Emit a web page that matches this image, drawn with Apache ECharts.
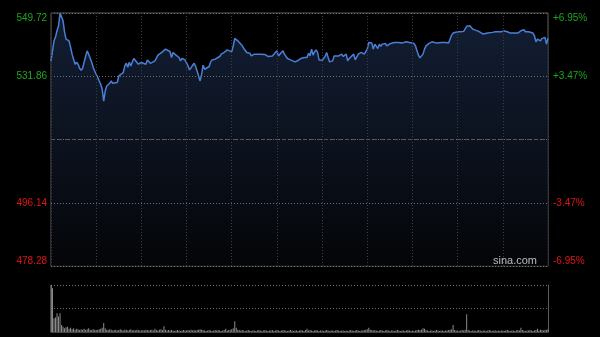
<!DOCTYPE html>
<html>
<head>
<meta charset="utf-8">
<script src="https://cdn.jsdelivr.net/npm/echarts@6/dist/echarts.min.js"></script>
<style>
html,body{margin:0;padding:0;background:#000;}
#c{width:600px;height:337px;}
</style>
</head>
<body>
<div id="c"></div>
<script>
const preClose = 514.00;
const priceTicks = [478.28, 496.14, 514.00, 531.86, 549.72];

const minutes = [0,2,3,4,5,6,8,9,10,12,13,14,15,16,17,18,19,20,21,22,23,24,25,27,28,29,30,31,32,33,34,35,36,37,38,39,40,41,42,44,45,46,48,49,50,51,52,53,54,55,56,58,60,61,63,64,66,67,69,71,72,74,76,77,79,80,81,83,85,86,87,89,90,91,92,93,95,96,97,98,99,100,101,102,103,105,106,107,109,110,112,113,115,117,118,120,121,122,124,125,127,128,130,132,133,135,139,142,144,147,148,150,151,152,154,155,157,159,160,162,164,165,166,168,170,171,172,173,174,175,176,177,178,179,180,182,183,184,185,187,188,189,191,192,193,194,196,197,198,199,201,202,203,204,205,206,207,208,210,211,212,213,214,215,216,217,218,219,220,221,222,223,225,226,228,229,231,233,234,236,238,239,241,242,243,244,245,246,247,248,249,251,253,254,256,257,259,260,262,264,265,266,267,268,270,272,274,275,276,278,279,280,281,284,285,287,288,290,293,295,297,299,301,303,305,306,308,310,312,314,315,317,318,320,321,322,323,324,325,326,327,328,329,330];

const prices = [536.20,541.87,542.92,544.70,546.12,549.72,547.54,544.33,542.35,541.87,540.08,538.10,536.68,535.26,535.83,535.26,534.13,533.56,534.13,535.83,537.50,539.03,538.10,535.83,534.41,533.36,532.43,531.58,530.53,529.59,528.17,524.86,527.69,529.11,529.31,529.87,530.53,529.87,530.07,530.07,531.94,532.14,532.91,534.78,535.54,534.41,535.83,534.78,535.91,536.88,536.88,535.26,535.74,535.26,535.26,536.48,535.50,535.91,536.20,537.81,537.61,538.75,539.51,539.03,538.86,537.16,538.58,537.81,537.16,536.20,536.88,536.48,536.20,534.78,533.65,533.65,535.54,534.61,533.36,531.94,530.53,532.43,534.98,533.84,534.33,534.61,535.91,536.48,536.68,537.16,537.44,538.10,538.58,539.32,539.51,538.75,540.45,542.55,541.87,541.41,540.45,539.71,538.58,538.38,537.61,538.10,538.10,538.01,537.44,537.61,538.10,539.03,537.61,537.81,539.03,538.10,536.88,536.48,536.20,535.91,536.31,536.03,536.88,537.16,537.16,538.38,537.61,539.51,537.81,538.75,539.32,538.58,536.48,536.48,536.40,537.44,538.58,537.16,535.91,536.20,537.61,537.81,537.61,537.33,538.10,537.44,538.10,536.20,536.88,536.48,538.10,536.48,536.88,538.10,537.61,538.58,538.38,538.10,539.51,541.41,540.93,541.22,539.51,540.93,540.45,539.71,540.93,540.28,540.93,540.65,541.13,540.45,541.02,541.22,541.41,541.13,541.41,541.22,541.41,541.58,541.41,541.13,541.13,540.45,539.03,537.81,537.05,537.16,538.10,539.51,540.45,541.13,541.58,541.70,541.22,541.13,541.41,541.22,541.41,541.22,541.41,543.48,544.05,544.25,544.42,544.42,544.53,544.99,545.95,546.12,545.67,545.18,544.70,544.53,544.05,543.77,544.05,544.05,544.25,544.42,544.42,544.42,544.62,544.42,544.05,543.77,544.05,544.05,544.70,544.99,544.42,544.42,544.42,544.05,543.28,541.58,542.35,542.83,541.87,542.55,542.35,542.83,540.93,542.60];

const volumes = [
100,93,29,31,40,33,40,15,11,8,10,11,
7,9,6,8,5,7,6,4,6,5,7,4,6,8,5,4,6,5,
4,5,6,7,9,19,8,5,4,6,5,3,4,5,3,4,6,4,3,5,5,3,4,6,3,4,3,5,4,3,
3,4,3,5,4,3,4,5,3,7,4,3,5,6,4,12,5,3,4,3,4,3,2,3,4,3,2,3,4,3,
3,4,3,5,3,4,3,4,5,6,5,4,3,2,3,4,3,2,3,4,3,4,3,2,3,4,7,3,4,5,
6,8,23,9,5,4,3,4,3,2,3,4,3,2,3,3,2,3,4,3,2,3,4,3,2,3,3,4,2,3,
4,3,2,3,4,3,3,2,3,4,3,2,3,3,2,3,4,3,2,4,7,3,4,3,2,3,4,3,2,3,
3,2,3,4,3,2,3,3,2,3,4,3,2,3,3,2,3,2,3,4,3,2,3,4,3,2,3,3,4,5,
6,9,5,4,3,4,3,2,3,4,3,2,3,4,3,2,3,3,2,3,4,3,2,3,3,2,3,4,3,2,
3,2,3,4,5,4,5,8,7,4,3,2,3,3,2,3,4,3,2,3,3,2,3,3,4,5,6,15,4,3,
3,2,3,4,3,5,38,4,3,2,3,3,2,3,4,3,2,3,3,2,3,4,3,2,3,3,2,3,2,3,
3,2,3,4,3,2,3,3,2,3,4,3,9,4,3,2,3,3,4,3,2,3,4,7,3,5,4,3,5,4,6
];

const span = priceTicks[4] - preClose;
const step = priceTicks[3] - priceTicks[2];

const chart = echarts.init(document.getElementById('c'), null, {renderer:'canvas'});
const labelColor = v => (parseFloat(v) > 0 ? '#1ea51e' : '#e01414');

chart.setOption({
  backgroundColor: '#000',
  animation: false,
  grid: [
    {left: 51, width: 497, top: 13, height: 253, show: true, borderColor: '#5c5c5c', borderWidth: 1, backgroundColor: 'transparent'},
    {left: 51, width: 497, top: 285, height: 47}
  ],
  xAxis: [
    {gridIndex: 0, type: 'value', min: 0, max: 330, interval: 30, z: 3,
     axisLine: {show: false}, axisTick: {show: false}, axisLabel: {show: false},
     splitLine: {show: true, lineStyle: {color: '#3e3e3e', type: [1, 2], width: 1}}},
    {gridIndex: 1, type: 'value', min: 0, max: 330,
     axisLine: {show: true, onZero: false, lineStyle: {color: '#444'}}, axisTick: {show: false}, axisLabel: {show: false},
     splitLine: {show: false}}
  ],
  yAxis: [
    {gridIndex: 0, type: 'value', position: 'left', min: -span, max: span, interval: step, z: 3,
     axisLine: {show: false}, axisTick: {show: false},
     axisLabel: {fontSize: 10, fontFamily: 'Arial, "Liberation Sans"', margin: 4, color: labelColor,
       verticalAlignMaxLabel: 'top', verticalAlignMinLabel: 'bottom',
       formatter: v => Math.abs(v) < 0.01 ? '' : (preClose + v).toFixed(2)},
     splitLine: {show: true, lineStyle: {color: '#707070', type: [1, 2], width: 1}}},
    {gridIndex: 0, type: 'value', position: 'right', min: -span, max: span, interval: step, z: 3,
     axisLine: {show: false}, axisTick: {show: false},
     axisLabel: {fontSize: 10, fontFamily: 'Arial, "Liberation Sans"', margin: 5, color: labelColor,
       verticalAlignMaxLabel: 'top', verticalAlignMinLabel: 'bottom',
       formatter: v => Math.abs(v) < 0.01 ? '' : (v > 0 ? '+' : '') + (v / preClose * 100).toFixed(2) + '%'},
     splitLine: {show: false}},
    {gridIndex: 1, type: 'value', position: 'left', min: 0, max: 100, interval: 50,
     axisLine: {show: true, lineStyle: {color: '#5c5c5c'}}, axisTick: {show: false}, axisLabel: {show: false},
     splitLine: {show: true, lineStyle: {color: '#707070', type: [1, 2], width: 1}}},
    {gridIndex: 1, type: 'value', position: 'right', min: 0, max: 100, interval: 50,
     axisLine: {show: true, lineStyle: {color: '#5c5c5c'}}, axisTick: {show: false}, axisLabel: {show: false},
     splitLine: {show: false}}
  ],
  series: [
    {type: 'line', xAxisIndex: 0, yAxisIndex: 0, showSymbol: false, symbol: 'none', z: 2,
     data: minutes.map((m, i) => [m, prices[i] - preClose]),
     lineStyle: {color: '#4a7fd6', width: 1.5},
     areaStyle: {origin: 'start', color: new echarts.graphic.LinearGradient(0, 0, 0, 1, [
       {offset: 0, color: '#1b2b4a'}, {offset: 0.5, color: '#111a2c'}, {offset: 1, color: '#05070b'}])},
     markLine: {silent: true, symbol: 'none', label: {show: false},
       lineStyle: {color: '#555', type: [4, 3], width: 1}, data: [{yAxis: 0}]}},
    {type: 'bar', xAxisIndex: 1, yAxisIndex: 2, barWidth: 1,
     data: volumes.map((v, i) => [i, v]),
     itemStyle: {color: '#8c8c8c'}}
  ],
  graphic: [
    {type: 'text', right: 63, top: 255, z: 10,
     style: {text: 'sina.com', fill: '#bdbdbd', font: '11px Arial, "Liberation Sans"'}}
  ]
});
</script>
</body>
</html>
